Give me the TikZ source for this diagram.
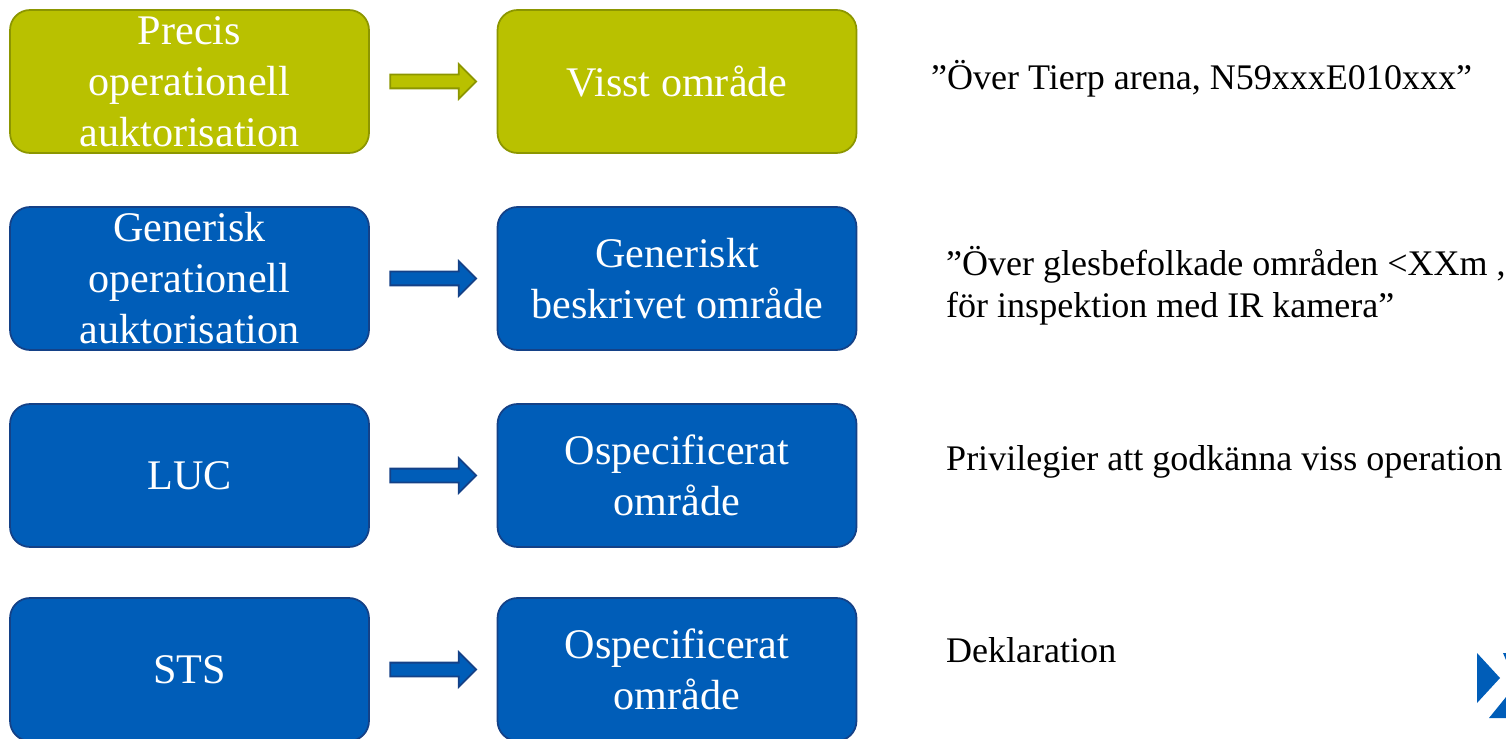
\documentclass[tikz,border=0pt]{standalone}
\usepackage{fontspec}
\setmainfont{Liberation Serif}
\usetikzlibrary{shapes.arrows,calc}
\definecolor{aptgreen}{RGB}{185,193,0}
\definecolor{aptgreendark}{RGB}{140,150,0}
\definecolor{aptblue}{RGB}{0,93,184}
\definecolor{aptbluedark}{RGB}{20,65,135}
\begin{document}
\begin{tikzpicture}[x=0.02cm,y=-0.02cm,
    box/.style={draw, line width=1pt, rounded corners=0.4cm, minimum width=7.18cm, minimum height=2.86cm, inner sep=0pt, align=center, text=white, font=\fontsize{24}{29}\selectfont},
    green box/.style={box, fill=aptgreen, draw=aptgreendark},
    blue box/.style={box, fill=aptblue, draw=aptbluedark},
    fat arrow/.style={single arrow, draw, line width=1pt, minimum height=1.72cm, single arrow head extend=0.21cm, inner xsep=0pt, inner ysep=0.12cm, xshift=-0.07cm},
    note/.style={anchor=west, align=left, font=\fontsize{20.5}{24}\selectfont}]
    \useasboundingbox (0,0) rectangle (1506,739);
    % left column
    \node [green box] (precis) at (189.5,81.5) {Precis\\operationell\\auktorisation};
    \node [blue box] (generisk) at (189.5,278.5) {Generisk\\operationell\\auktorisation};
    \node [blue box] (luc) at (189.5,475.5) {LUC};
    \node [blue box] (sts) at (189.5,669.5) {STS};
    % right column
    \node [green box] (visst) at (677,81.5) {Visst område};
    \node [blue box] (beskrivet) at (677,278.5) {Generiskt\\beskrivet område};
    \node [blue box] (ospec1) at (677,475.5) {Ospecificerat\\område};
    \node [blue box] (ospec2) at (677,669.5) {Ospecificerat\\område};
    % arrows
    \node [fat arrow, fill=aptgreen, draw=aptgreendark] (pil1) at ($(precis.east)!0.5!(visst.west)$) {};
    \node [fat arrow, fill=aptblue, draw=aptbluedark] (pil2) at ($(generisk.east)!0.5!(beskrivet.west)$) {};
    \node [fat arrow, fill=aptblue, draw=aptbluedark] (pil3) at ($(luc.east)!0.5!(ospec1.west)$) {};
    \node [fat arrow, fill=aptblue, draw=aptbluedark] (pil4) at ($(sts.east)!0.5!(ospec2.west)$) {};
    % notes
    \node [note] (ex1) at (925,79) {”Över Tierp arena, N59xxxE010xxx”};
    \node [note] (ex2) at (940,286) {”Över glesbefolkade områden <XXm ,\\för inspektion med IR kamera”};
    \node [note] (ex3) at (940,462) {Privilegier att godkänna viss operation};
    \node [note] (ex4) at (940,650) {Deklaration};
    % logo corner
    \fill [aptblue] (1477,653) -- (1500,678) -- (1477,703) -- cycle;
    \fill [aptblue] (1489,718) -- (1506,697) -- (1506,718) -- cycle;
    \fill [aptblue] (1503,653) -- (1506,653) -- (1506,660) -- cycle;
\end{tikzpicture}
\end{document}
